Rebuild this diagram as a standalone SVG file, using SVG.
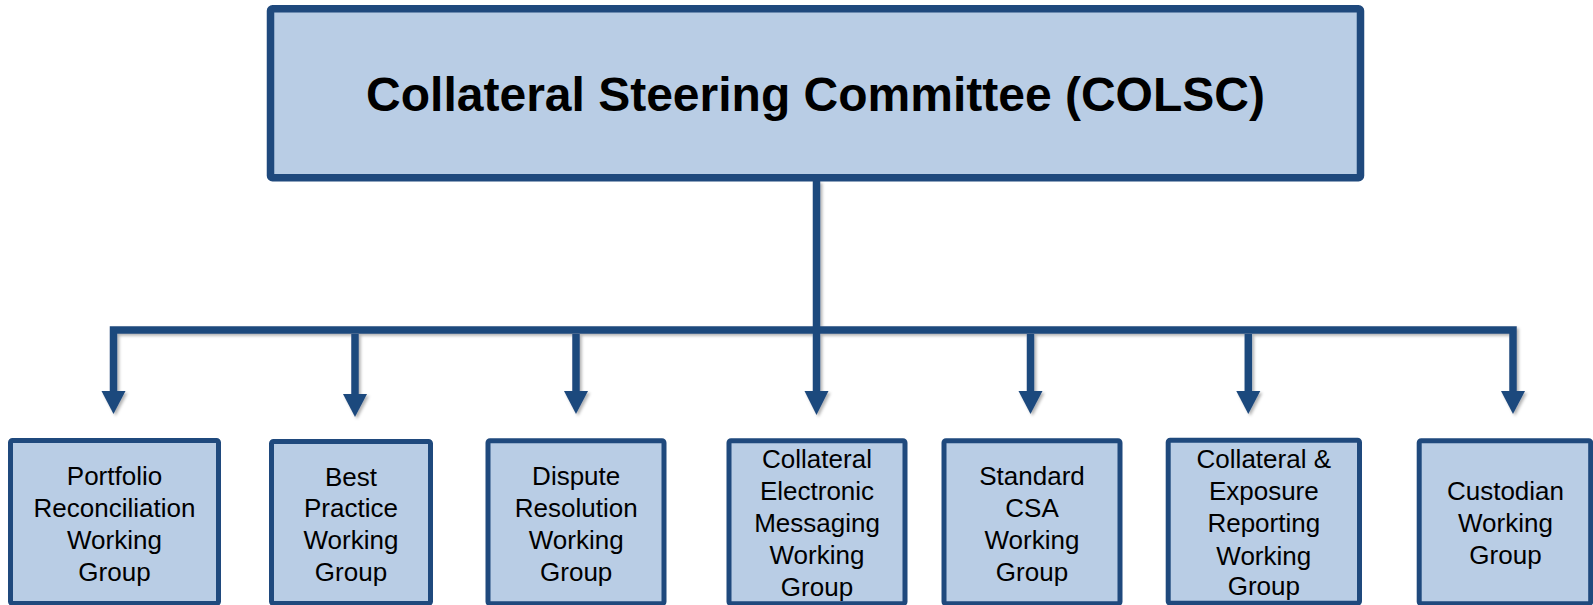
<svg xmlns="http://www.w3.org/2000/svg" width="1593" height="605" viewBox="0 0 1593 605">
<defs>
<filter id="sh" x="-20%" y="-20%" width="140%" height="140%">
<feDropShadow dx="2" dy="2" stdDeviation="1.5" flood-color="#000" flood-opacity="0.3"/>
</filter>
</defs>
<style>
.box{fill:#B9CDE5;stroke:#1F497D;stroke-width:5}
.top{fill:#B9CDE5;stroke:#1F497D;stroke-width:7.5}
.t{font-family:"Liberation Sans",Arial,sans-serif;font-size:26px;fill:#000;text-anchor:middle}
.title{font-family:"Liberation Sans",Arial,sans-serif;font-size:48px;font-weight:bold;fill:#000;text-anchor:middle}
.ln{fill:none;stroke:#1F497D;stroke-width:7.5;stroke-linejoin:miter}
.ah{fill:#1F497D}
</style>
<rect width="1593" height="605" fill="#fff"/>
<g id="connectors" filter="url(#sh)">
<path class="ln" d="M113.5,392 V330 H1513 V392"/>
<path class="ln" d="M816.5,181 V392"/>
<path class="ln" d="M355,334 V395"/>
<path class="ln" d="M576,334 V392"/>
<path class="ln" d="M1030.5,334 V392"/>
<path class="ln" d="M1248.3,334 V392"/>
<polygon class="ah" points="101.5,391 125.5,391 113.5,414"/>
<polygon class="ah" points="343,394 367,394 355,417"/>
<polygon class="ah" points="564,391 588,391 576,414"/>
<polygon class="ah" points="804.5,391 828.5,391 816.5,415"/>
<polygon class="ah" points="1018.5,391 1042.5,391 1030.5,414"/>
<polygon class="ah" points="1236.3,391 1260.3,391 1248.3,414"/>
<polygon class="ah" points="1501,391 1525,391 1513,414"/>
</g>
<g id="colsc">
<rect class="top" x="270.5" y="8.8" width="1090" height="169" rx="2"/>
<text class="title" x="815.5" y="111">Collateral Steering Committee (COLSC)</text>
</g>
<g id="portfolio">
<rect class="box" x="10.5" y="440.5" width="208" height="163" rx="2"/>
<text class="t" x="114.5" y="485">Portfolio</text>
<text class="t" x="114.5" y="516.7">Reconciliation</text>
<text class="t" x="114.5" y="549.3">Working</text>
<text class="t" x="114.5" y="581">Group</text>
</g>
<g id="bestpractice">
<rect class="box" x="271.5" y="441.5" width="159" height="162" rx="2"/>
<text class="t" x="351" y="485.7">Best</text>
<text class="t" x="351" y="517.3">Practice</text>
<text class="t" x="351" y="549.3">Working</text>
<text class="t" x="351" y="581">Group</text>
</g>
<g id="dispute">
<rect class="box" x="488" y="440.8" width="176" height="163" rx="2"/>
<text class="t" x="576.2" y="485">Dispute</text>
<text class="t" x="576.2" y="516.7">Resolution</text>
<text class="t" x="576.2" y="549.3">Working</text>
<text class="t" x="576.2" y="580.5">Group</text>
</g>
<g id="cem">
<rect class="box" x="729" y="440.8" width="176" height="163" rx="2"/>
<text class="t" x="817" y="468.3">Collateral</text>
<text class="t" x="817" y="500">Electronic</text>
<text class="t" x="817" y="532.3">Messaging</text>
<text class="t" x="817" y="564.3">Working</text>
<text class="t" x="817" y="596">Group</text>
</g>
<g id="standardcsa">
<rect class="box" x="944" y="440.8" width="176" height="163" rx="2"/>
<text class="t" x="1032" y="485">Standard</text>
<text class="t" x="1032" y="516.7">CSA</text>
<text class="t" x="1032" y="549.3">Working</text>
<text class="t" x="1032" y="580.5">Group</text>
</g>
<g id="exposure">
<rect class="box" x="1168.2" y="440.2" width="191.3" height="163" rx="2"/>
<text class="t" x="1263.8" y="468.3">Collateral &amp;</text>
<text class="t" x="1263.8" y="500">Exposure</text>
<text class="t" x="1263.8" y="531.7">Reporting</text>
<text class="t" x="1263.8" y="565">Working</text>
<text class="t" x="1263.8" y="595">Group</text>
</g>
<g id="custodian">
<rect class="box" x="1419.2" y="440.8" width="171.5" height="163" rx="2"/>
<text class="t" x="1505.5" y="500">Custodian</text>
<text class="t" x="1505.5" y="532.3">Working</text>
<text class="t" x="1505.5" y="564.3">Group</text>
</g>
</svg>
